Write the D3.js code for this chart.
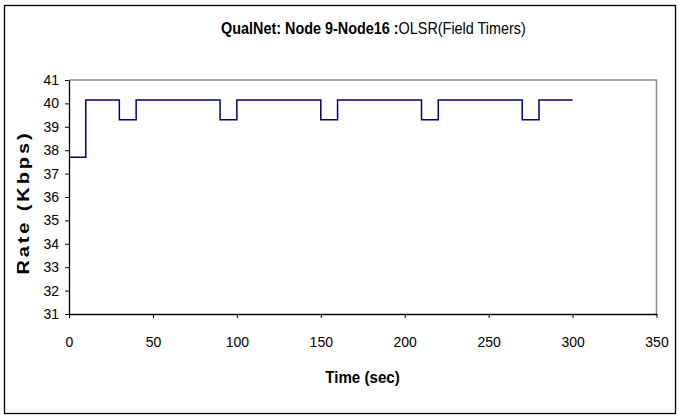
<!DOCTYPE html>
<html><head><meta charset="utf-8">
<script src="https://cdn.jsdelivr.net/npm/d3@7"></script>
<style>
body{margin:0;background:#fff;}
text{font-family:"Liberation Sans",Arial,sans-serif;}
</style></head>
<body><svg id="c" width="679" height="419"></svg>
<script>
const times = [0, 10, 30, 40, 90, 100, 150, 160, 210, 220, 270, 280, 300];
const rates = [37.7, 40.15, 39.3, 40.15, 39.3, 40.15, 39.3, 40.15, 39.3, 40.15, 39.3, 40.15, 40.15];
const xTicks = [0, 50, 100, 150, 200, 250, 300, 350];
const yTicks = [31, 32, 33, 34, 35, 36, 37, 38, 39, 40, 41];

const svg = d3.select("#c");
svg.append("rect").attr("x", 4.5).attr("y", 5.5).attr("width", 671).attr("height", 408)
  .attr("fill", "#fff").attr("stroke", "#000").attr("stroke-width", 1.3);

const x = d3.scaleLinear().domain([0, 350]).range([69, 656.5]);
const y = d3.scaleLinear().domain([31, 41]).range([314, 80]);

// plot area border (gray)
svg.append("path")
  .attr("d", `M${x(0)},${y(41)}H${x(350)}V${y(31)}`)
  .attr("fill", "none").attr("stroke", "#8c8c8c").attr("stroke-width", 1.5);

const data = times.map((t, i) => ({t, r: rates[i]}));
const line = d3.line().x(d => x(d.t)).y(d => y(d.r)).curve(d3.curveStepAfter);
svg.append("path").datum(data).attr("d", line)
  .attr("fill", "none").attr("stroke", "#000080").attr("stroke-width", 1.5);

const xa = svg.append("g").attr("transform", `translate(0,${y(31)})`)
  .call(d3.axisBottom(x).tickValues(xTicks).tickSize(4).tickSizeOuter(0).tickPadding(19));
const ya = svg.append("g").attr("transform", `translate(${x(0)},0)`)
  .call(d3.axisLeft(y).tickValues(yTicks).tickSize(4).tickSizeOuter(0).tickPadding(6));
[xa, ya].forEach(a => {
  a.select(".domain").attr("stroke", "#000").attr("stroke-width", 1.3);
  a.selectAll(".tick line").attr("stroke", "#000");
  a.selectAll(".tick text").attr("font-size", 14).attr("fill", "#000");
});

// title
const title = svg.append("text").attr("transform", "translate(221,34) scale(0.9,1)")
  .attr("font-size", 16).attr("fill", "#000");
title.append("tspan").attr("font-weight", "bold").text("QualNet: Node 9-Node16 :");
title.append("tspan").text("OLSR(Field Timers)");

svg.append("text").attr("transform", "translate(362.5,383) scale(0.89,1)").attr("text-anchor", "middle")
  .attr("font-size", 17).attr("font-weight", "bold").text("Time (sec)");

svg.append("text").attr("transform", `translate(29,204) rotate(-90) scale(1.25,1)`)
  .attr("text-anchor", "middle")
  .attr("font-size", 16).attr("font-weight", "bold")
  .attr("textLength", 113).attr("lengthAdjust", "spacing").text("Rate (Kbps)");
</script></body></html>
